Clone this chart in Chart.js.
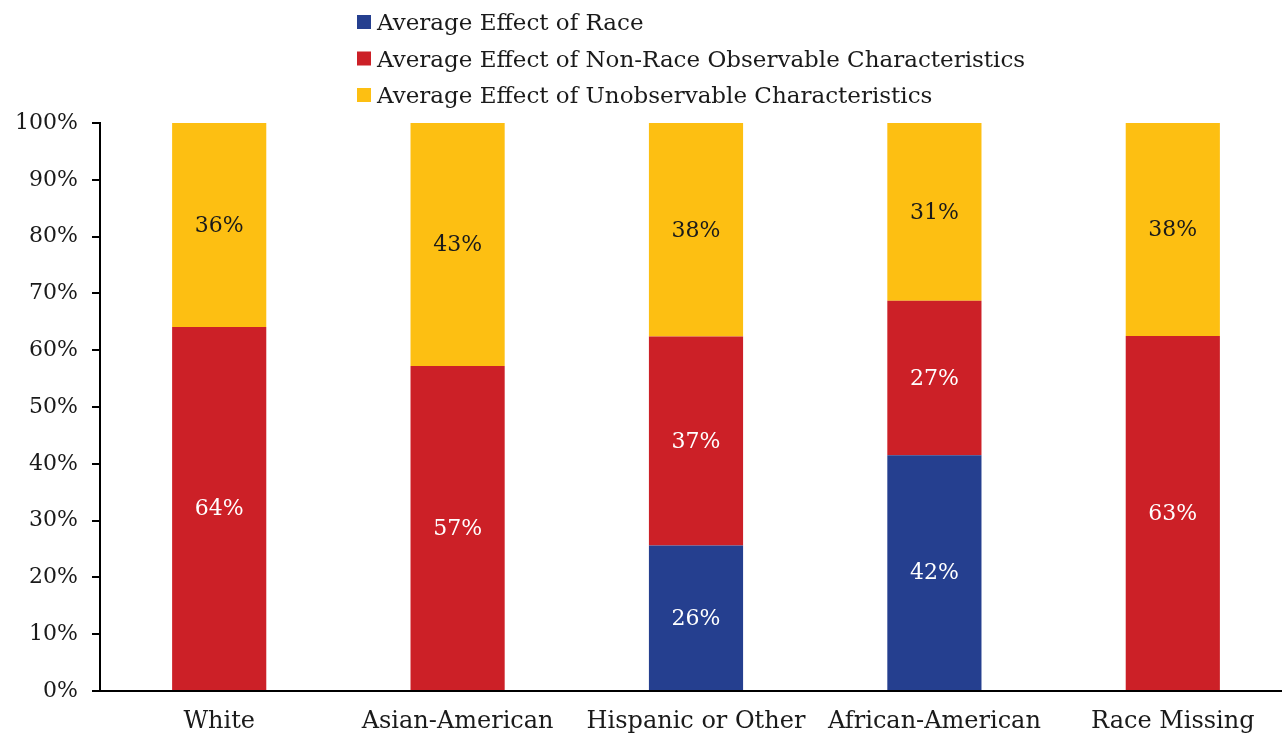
<!DOCTYPE html>
<html>
<head>
<meta charset="utf-8">
<script src="https://cdn.jsdelivr.net/npm/chart.js@4.4.1/dist/chart.umd.min.js"></script>
<style>
  html, body { margin: 0; padding: 0; background: #ffffff; overflow: hidden; }
  #wrap { position: relative; width: 1292px; height: 738px; }
</style>
</head>
<body>
<div id="wrap"><canvas id="c"></canvas></div>
<script>
const categories = ['White', 'Asian-American', 'Hispanic or Other', 'African-American', 'Race Missing'];
const seriesNames = [
  'Average Effect of Race',
  'Average Effect of Non-Race Observable Characteristics',
  'Average Effect of Unobservable Characteristics'
];
const raceEffect = [0, 0, 25.6, 41.5, 0];
const nonRaceEffect = [64.1, 57.2, 36.8, 27.2, 62.5];
const unobservableEffect = [35.9, 42.8, 37.6, 31.3, 37.5];
const yTicks = [0, 10, 20, 30, 40, 50, 60, 70, 80, 90, 100];

const colors = ['#253F8F', '#CC2027', '#FDBF12'];
const labelColors = ['#ffffff', '#ffffff', '#1a1a1a'];
const FONT = '"DejaVu Serif", Georgia, serif';

const valueLabels = {
  id: 'valueLabels',
  afterDatasetsDraw(chart) {
    const ctx = chart.ctx;
    ctx.save();
    ctx.font = '22px ' + FONT;
    ctx.textAlign = 'center';
    ctx.textBaseline = 'middle';
    chart.data.datasets.forEach((ds, i) => {
      const meta = chart.getDatasetMeta(i);
      meta.data.forEach((bar, j) => {
        const v = ds.data[j];
        if (!v) return;
        ctx.fillStyle = labelColors[i];
        ctx.fillText(Math.round(v) + '%', bar.x, (bar.y + bar.base) / 2 + 1);
      });
    });
    ctx.restore();
  }
};

const stackedLegend = {
  id: 'stackedLegend',
  afterDraw(chart) {
    const ctx = chart.ctx;
    ctx.save();
    ctx.font = '23px ' + FONT;
    ctx.textAlign = 'left';
    ctx.textBaseline = 'alphabetic';
    chart.data.datasets.forEach((ds, i) => {
      const baseline = 30 + i * 36.5;
      ctx.fillStyle = ds.backgroundColor;
      ctx.fillRect(357, baseline - 15, 14, 14);
      ctx.fillStyle = '#1a1a1a';
      ctx.fillText(ds.label, 377, baseline);
    });
    ctx.restore();
  }
};

new Chart(document.getElementById('c'), {
  type: 'bar',
  data: {
    labels: categories,
    datasets: [
      { label: seriesNames[0], data: raceEffect, backgroundColor: colors[0] },
      { label: seriesNames[1], data: nonRaceEffect, backgroundColor: colors[1] },
      { label: seriesNames[2], data: unobservableEffect, backgroundColor: colors[2] }
    ].map(d => Object.assign(d, { barPercentage: 0.395, categoryPercentage: 1, borderWidth: 0 }))
  },
  options: {
    responsive: true,
    maintainAspectRatio: false,
    animation: false,
    layout: { padding: { top: 123, left: 0, right: 0, bottom: 0 } },
    plugins: {
      legend: { display: false },
      tooltip: { enabled: false }
    },
    scales: {
      x: {
        stacked: true,
        grid: { display: false, drawTicks: false },
        border: { display: true, color: '#000000', width: 2 },
        ticks: { color: '#1a1a1a', font: { family: FONT, size: 24 }, padding: 16, maxRotation: 0 },
        afterFit(scale) { scale.height = 47; }
      },
      y: {
        stacked: true,
        min: 0,
        max: 100,
        afterBuildTicks(scale) { scale.ticks = yTicks.map(v => ({ value: v })); },
        grid: { drawOnChartArea: false, drawTicks: true, tickLength: 8, color: '#000000', lineWidth: 2 },
        border: { display: true, color: '#000000', width: 2 },
        ticks: { color: '#1a1a1a', font: { family: FONT, size: 22 }, padding: 14, callback: v => v + '%' },
        afterFit(scale) { scale.width = 100; }
      }
    }
  },
  plugins: [valueLabels, stackedLegend]
});
</script>
</body>
</html>
